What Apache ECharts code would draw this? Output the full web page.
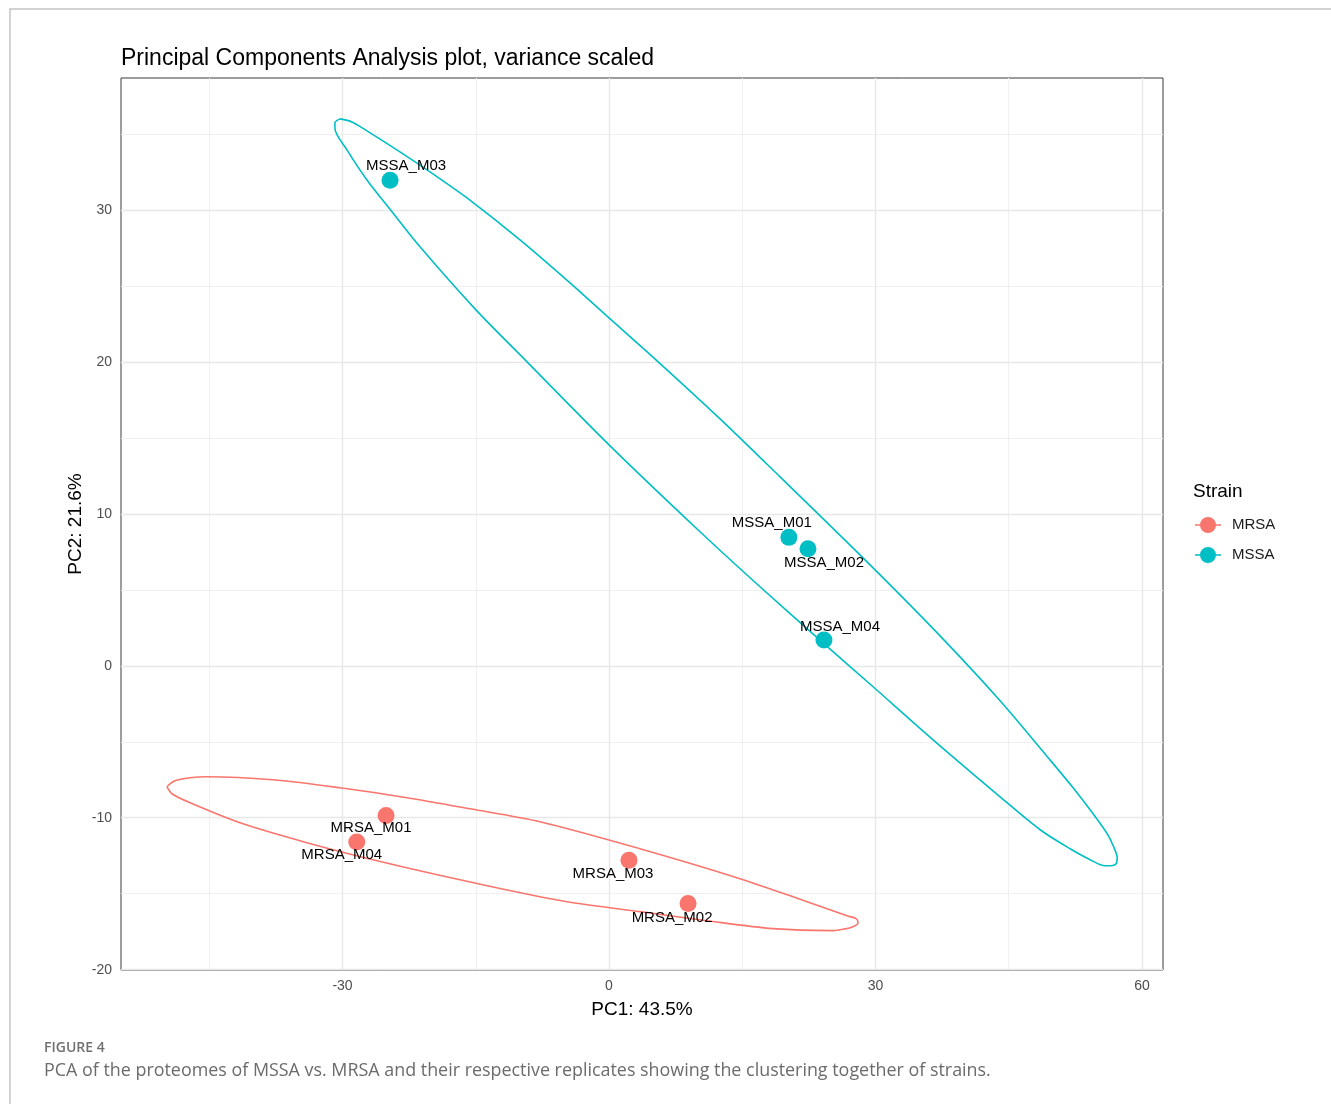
<!DOCTYPE html>
<html>
<head>
<meta charset="utf-8">
<title>PCA plot</title>
<script src="https://cdn.jsdelivr.net/npm/echarts@6/dist/echarts.min.js"></script>
<style>
  html, body { margin: 0; padding: 0; background: #ffffff; }
  #chart { width: 1331px; height: 1104px; }
</style>
</head>
<body>
<div id="chart"></div>
<script>
// ---- sample scores on the first two principal components ----
const mrsaNames = ['MRSA_M01', 'MRSA_M02', 'MRSA_M03', 'MRSA_M04'];
const mrsaPC1 = [-25.1, 8.9, 2.25, -28.4];
const mrsaPC2 = [-9.85, -15.65, -12.8, -11.6];

const mssaNames = ['MSSA_M01', 'MSSA_M02', 'MSSA_M03', 'MSSA_M04'];
const mssaPC1 = [20.25, 22.4, -24.65, 24.2];
const mssaPC2 = [8.45, 7.7, 31.95, 1.7];

// ---- confidence ellipse outlines (PC1, PC2) ----
const mrsaEllipseX = [-49.77, -48.87, -47.18, -45.27, -37.84, -30.29, -22.75, -15.65, -7.77, 3.49, 14.75, 22.30, 26.80, 27.82, 28.04, 27.48, 26.35, 25.23, 18.47, 11.04, 3.49, -4.05, -7.77, -16.78, -26.58, -34.01, -41.55, -47.18, -49.21, -49.77];
const mrsaEllipseY = [-7.96, -7.57, -7.37, -7.30, -7.50, -8.03, -8.68, -9.41, -10.26, -12.04, -14.01, -15.53, -16.45, -16.64, -16.91, -17.17, -17.34, -17.43, -17.30, -16.78, -16.18, -15.59, -15.20, -14.08, -12.76, -11.64, -10.33, -9.01, -8.42, -7.96];

const mssaEllipseX = [-30.29, -28.94, -27.25, -23.54, -19.82, -15.99, -10.02, -4.39, 0, 5.41, 12.50, 19.26, 29.39, 37.27, 44.03, 49.44, 52.25, 54.50, 56.08, 56.76, 57.21, 57.09, 56.53, 55.86, 54.17, 51.91, 48.54, 44.03, 36.49, 29.73, 24.10, 17.00, 10.25, 0, -9.23, -14.98, -21.28, -24.32, -27.25, -29.50, -30.86, -30.86, -30.29];
const mssaEllipseY = [35.99, 35.79, 35.20, 33.82, 32.37, 30.79, 28.03, 25.20, 22.89, 20.07, 16.25, 12.43, 6.64, 1.97, -2.30, -6.05, -8.03, -9.74, -11.05, -11.84, -12.63, -13.03, -13.16, -13.16, -12.76, -12.04, -10.79, -8.62, -4.87, -1.38, 1.51, 5.20, 8.82, 14.54, 20.00, 23.42, 27.57, 29.80, 31.97, 33.95, 35.39, 35.72, 35.99];

// ---- axis breaks ----
const pc1Ticks = [-30, 0, 30, 60];
const pc1Minor = [-45, -15, 15, 45];
const pc2Ticks = [-20, -10, 0, 10, 20, 30];
const pc2Minor = [-15, -5, 5, 15, 25, 35];

const strains = ['MRSA', 'MSSA'];
const strainColors = { MRSA: '#F8766D', MSSA: '#00BFC4' };

// text placement of each sample label relative to its point (pixels)
const labelShift = {
  MRSA_M01: [-15, 12], MRSA_M02: [-16, 14], MRSA_M03: [-16, 14], MRSA_M04: [-15, 13],
  MSSA_M01: [-17, -15], MSSA_M02: [16, 14], MSSA_M03: [16, -14], MSSA_M04: [16, -13]
};

const FONT = '"Liberation Sans", Arial, Helvetica, sans-serif';
const CAPTION_FONT = '"Open Sans", "Noto Sans", sans-serif';

function zip(xs, ys) { return xs.map((x, i) => [x, ys[i]]); }

function pointData(names, xs, ys) {
  return names.map((n, i) => ({
    value: [xs[i], ys[i]],
    name: n,
    label: { offset: labelShift[n] }
  }));
}

// legend key: a short path segment with a point on top
const legendIcon = 'path://M0,7.7H8V9.3H0Z M18,7.7H26V9.3H18Z M13,0.5A8,8,0,1,1,12.99,0.5Z';

const chart = echarts.init(document.getElementById('chart'), null, { renderer: 'canvas' });

const gridLineSeries = {
  type: 'line',
  data: [],
  silent: true,
  z: 0,
  markLine: {
    silent: true,
    z: 1,
    symbol: ['none', 'none'],
    animation: false,
    label: { show: false },
    emphasis: { disabled: true },
    data: [
      ...pc1Minor.map(v => ({ xAxis: v, lineStyle: { color: '#f0f0f0', width: 1, type: 'solid' } })),
      ...pc2Minor.map(v => ({ yAxis: v, lineStyle: { color: '#f0f0f0', width: 1, type: 'solid' } })),
      ...pc1Ticks.map(v => ({ xAxis: v, lineStyle: { color: '#e8e8e8', width: 1.4, type: 'solid' } })),
      ...pc2Ticks.map(v => ({ yAxis: v, lineStyle: { color: '#e8e8e8', width: 1.4, type: 'solid' } }))
    ]
  }
};

function ellipseSeries(name, xs, ys) {
  return {
    name: name,
    type: 'line',
    data: zip(xs, ys),
    showSymbol: false,
    symbol: 'none',
    smooth: 0.3,
    silent: true,
    z: 2,
    lineStyle: { color: strainColors[name], width: 1.6, join: 'round' },
    itemStyle: { color: strainColors[name] }
  };
}

function pointSeries(name, names, xs, ys) {
  return {
    name: name,
    type: 'scatter',
    data: pointData(names, xs, ys),
    symbol: 'circle',
    symbolSize: 17,
    z: 3,
    itemStyle: { color: strainColors[name], opacity: 1 },
    label: {
      show: true,
      position: 'inside',
      formatter: p => p.name,
      color: '#000000',
      fontFamily: FONT,
      fontSize: 15
    },
    emphasis: { disabled: true }
  };
}

const option = {
  animation: false,
  backgroundColor: '#ffffff',
  title: {
    text: 'Principal Components Analysis plot, variance scaled',
    left: 116,
    top: 42,
    textStyle: { fontFamily: FONT, fontSize: 23, fontWeight: 'normal', color: '#000000' }
  },
  grid: {
    left: 121, right: 168, top: 78, bottom: 134,
    show: true,
    borderColor: '#3a3a3a',
    borderWidth: 1,
    backgroundColor: 'transparent'
  },
  legend: {
    orient: 'vertical',
    left: 1190,
    top: 512,
    itemWidth: 26,
    itemHeight: 17,
    itemGap: 14,
    icon: legendIcon,
    data: strains,
    selectedMode: false,
    textStyle: { fontFamily: FONT, fontSize: 15, color: '#1a1a1a', padding: [0, 0, 0, 6] }
  },
  xAxis: {
    type: 'value',
    min: -54.94,
    max: 62.37,
    name: 'PC1: 43.5%',
    nameLocation: 'middle',
    nameGap: 30,
    nameTextStyle: { fontFamily: FONT, fontSize: 19, color: '#000000' },
    axisLine: { show: false },
    axisTick: { show: true, length: 5, customValues: pc1Ticks, lineStyle: { color: '#333333', width: 1 } },
    axisLabel: { customValues: pc1Ticks, color: '#4d4d4d', fontFamily: FONT, fontSize: 14, margin: 9 },
    splitLine: { show: false }
  },
  yAxis: {
    type: 'value',
    min: -20.02,
    max: 38.68,
    name: 'PC2: 21.6%',
    nameLocation: 'middle',
    nameGap: 36,
    nameMoveOverlap: false,
    nameRotate: 90,
    nameTextStyle: { fontFamily: FONT, fontSize: 19, color: '#000000' },
    axisLine: { show: false },
    axisTick: { show: true, length: 5, customValues: pc2Ticks, lineStyle: { color: '#333333', width: 1 } },
    axisLabel: { customValues: pc2Ticks, color: '#4d4d4d', fontFamily: FONT, fontSize: 14, margin: 9 },
    splitLine: { show: false }
  },
  graphic: [
    // outer figure frame (top and left edges)
    { type: 'polyline', silent: true, shape: { points: [[10, 1104], [10, 9], [1331, 9]] },
      style: { stroke: '#c4c4c4', lineWidth: 1.5, fill: null } },
    { type: 'text', left: 1193, top: 482, silent: true,
      style: { text: 'Strain', fontFamily: FONT, fontSize: 19, fill: '#000000' } },
    { type: 'text', left: 44, top: 1041, silent: true,
      style: { text: 'FIGURE 4', fontFamily: CAPTION_FONT, fontSize: 14, fontWeight: 600, fill: '#707070' } },
    { type: 'text', left: 44, top: 1062, silent: true,
      style: { text: 'PCA of the proteomes of MSSA vs. MRSA and their respective replicates showing the clustering together of strains.',
               fontFamily: CAPTION_FONT, fontSize: 17.9, fill: '#6b6b6b' } }
  ],
  series: [
    gridLineSeries,
    ellipseSeries('MRSA', mrsaEllipseX, mrsaEllipseY),
    ellipseSeries('MSSA', mssaEllipseX, mssaEllipseY),
    pointSeries('MRSA', mrsaNames, mrsaPC1, mrsaPC2),
    pointSeries('MSSA', mssaNames, mssaPC1, mssaPC2)
  ]
};

chart.setOption(option);
</script>
</body>
</html>
